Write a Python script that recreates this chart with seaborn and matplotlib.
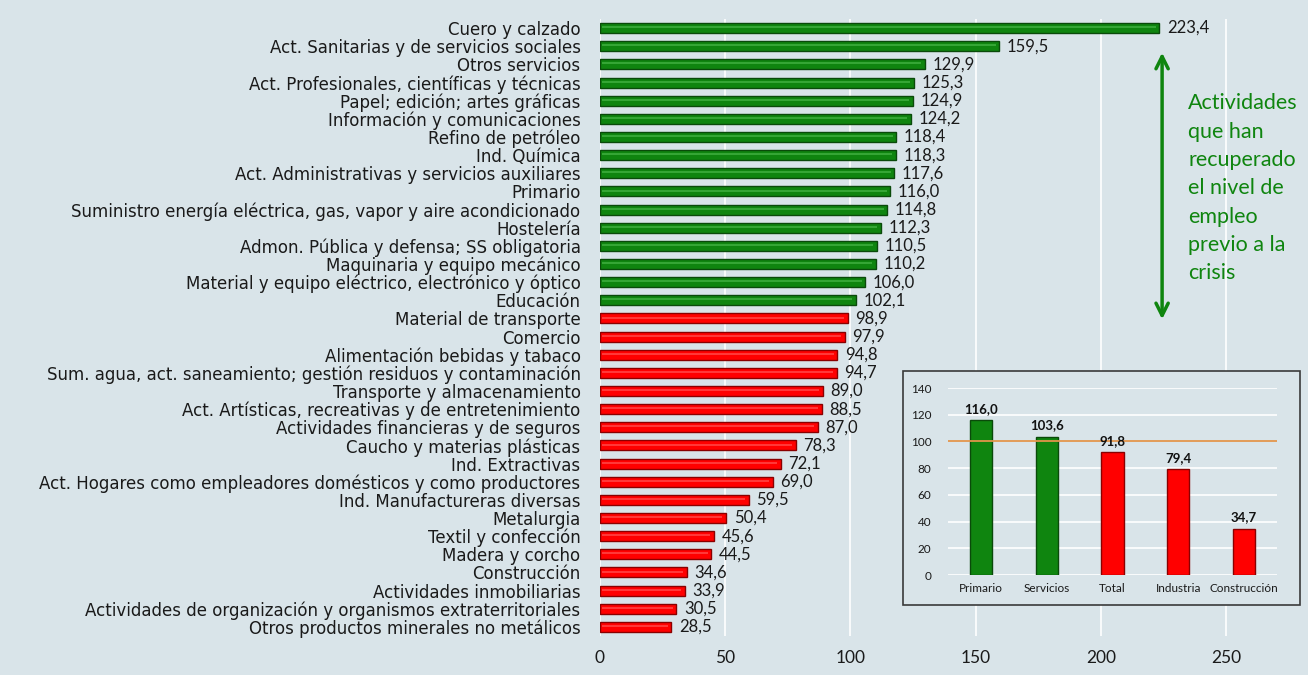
import matplotlib.pyplot as plt
import matplotlib.patches as mpatches
import seaborn as sns
import pandas as pd

actividades = [
    "Cuero y calzado",
    "Act. Sanitarias y de servicios sociales",
    "Otros servicios",
    "Act. Profesionales, científicas y técnicas",
    "Papel; edición; artes gráficas",
    "Información y comunicaciones",
    "Refino de petróleo",
    "Ind. Química",
    "Act. Administrativas y servicios auxiliares",
    "Primario",
    "Suministro energía eléctrica, gas, vapor y aire acondicionado",
    "Hostelería",
    "Admon. Pública y defensa; SS obligatoria",
    "Maquinaria y equipo mecánico",
    "Material y equipo eléctrico, electrónico y óptico",
    "Educación",
    "Material de transporte",
    "Comercio",
    "Alimentación bebidas y tabaco",
    "Sum. agua, act. saneamiento; gestión residuos y contaminación",
    "Transporte y almacenamiento",
    "Act. Artísticas, recreativas y de entretenimiento",
    "Actividades financieras y de seguros",
    "Caucho y materias plásticas",
    "Ind. Extractivas",
    "Act. Hogares como empleadores domésticos y como productores",
    "Ind. Manufactureras diversas",
    "Metalurgia",
    "Textil y confección",
    "Madera y corcho",
    "Construcción",
    "Actividades inmobiliarias",
    "Actividades de organización y organismos extraterritoriales",
    "Otros productos minerales no metálicos",
]
valores = [223.4, 159.5, 129.9, 125.3, 124.9, 124.2, 118.4, 118.3, 117.6, 116.0,
           114.8, 112.3, 110.5, 110.2, 106.0, 102.1, 98.9, 97.9, 94.8, 94.7,
           89.0, 88.5, 87.0, 78.3, 72.1, 69.0, 59.5, 50.4, 45.6, 44.5,
           34.6, 33.9, 30.5, 28.5]

sectores = ["Primario", "Servicios", "Total", "Industria", "Construcción"]
valores_sector = [116.0, 103.6, 91.8, 79.4, 34.7]

FONDO = "#d9e4e9"
VERDE = "#0f850f"
ROJO = "#ff0000"
VERDE_OSC = "#0a4a0a"
ROJO_OSC = "#8a0000"


def fmt(v):
    return f"{v:.1f}".replace(".", ",")


def main():
    sns.set_theme(style="white")
    plt.rcParams["font.family"] = ["DejaVu Sans"]

    df = pd.DataFrame({"actividad": actividades, "valor": valores})
    df["recupera"] = df["valor"] >= 100
    df_s = pd.DataFrame({"sector": sectores, "valor": valores_sector})
    df_s["recupera"] = df_s["valor"] >= 100

    fig = plt.figure(figsize=(13.08, 6.75), dpi=100, facecolor=FONDO)
    ax = fig.add_axes([0.4587, 0.0578, 0.536, 0.914])
    ax.set_facecolor(FONDO)

    sns.barplot(data=df, x="valor", y="actividad", hue="recupera",
                palette={True: VERDE, False: ROJO}, dodge=False, legend=False,
                saturation=1, width=0.55, ax=ax, zorder=3)
    for bar in ax.patches:
        idx = int(round(bar.get_y() + bar.get_height() / 2))
        ok = df["recupera"].iloc[idx]
        bar.set_edgecolor(VERDE_OSC if ok else ROJO_OSC)
        bar.set_linewidth(1.0)
    # brillo central de las barras
    for i, (v, ok) in enumerate(zip(df["valor"], df["recupera"])):
        ax.plot([1, v - 1.5], [i - 0.05, i - 0.05], color="#5cc85c" if ok else "#ff7070",
                lw=1.2, alpha=0.6, zorder=4, solid_capstyle="butt")

    ax.set_xlim(0, 280)
    ax.set_ylim(len(df) - 0.5, -0.5)
    ax.set_xticks([0, 50, 100, 150, 200, 250])
    ax.grid(axis="x", color="white", lw=1.2, zorder=0)
    ax.grid(axis="y", visible=False)
    for s in ax.spines.values():
        s.set_visible(False)
    ax.set_xlabel("")
    ax.set_ylabel("")
    ax.tick_params(axis="y", length=0, pad=14, labelsize=12, labelcolor="#1a1a1a")
    ax.tick_params(axis="x", length=0, pad=10, labelsize=12.5, labelcolor="#1a1a1a")
    for lab in ax.get_xticklabels():
        lab.set_fontfamily("Lato")

    for i, v in enumerate(df["valor"]):
        ax.text(v + 3, i, fmt(v), va="center", ha="left", fontsize=12,
                family="Lato", color="#1a1a1a", zorder=5)

    # flecha y texto
    ax.annotate("", xy=(224.5, 1.2), xytext=(224.5, 16.2),
                arrowprops=dict(arrowstyle="<->", color=VERDE, lw=2.5,
                                mutation_scale=22))
    ax.text(235, 3.6, "Actividades\nque han\nrecuperado\nel nivel de\nempleo\nprevio a la\ncrisis",
            va="top", ha="left", fontsize=15.5, family="Lato", color=VERDE,
            linespacing=1.52)

    # recuadro del gráfico pequeño
    caja = mpatches.Rectangle((0.6904, 0.1037), 0.3035, 0.3467, transform=fig.transFigure,
                              facecolor=FONDO, edgecolor="#3a3a3a", lw=1.2, zorder=10)
    fig.patches.append(caja)

    ax2 = fig.add_axes([0.7248, 0.1481, 0.2515, 0.277], zorder=11)
    ax2.set_facecolor(FONDO)
    sns.barplot(data=df_s, x="sector", y="valor", hue="recupera",
                palette={True: VERDE, False: ROJO}, dodge=False, legend=False,
                saturation=1, width=0.34, ax=ax2, zorder=3)
    for bar in ax2.patches:
        idx = int(round(bar.get_x() + bar.get_width() / 2))
        ok = df_s["recupera"].iloc[idx]
        bar.set_edgecolor(VERDE_OSC if ok else ROJO_OSC)
        bar.set_linewidth(1.0)
    ax2.set_xlim(-0.5, 4.5)
    ax2.set_ylim(0, 140)
    ax2.set_yticks(range(0, 141, 20))
    ax2.grid(axis="y", color="white", lw=1.2, zorder=0)
    ax2.grid(axis="x", visible=False)
    ax2.axhline(100, color="#e0944a", lw=1.3, zorder=4)
    for s in ax2.spines.values():
        s.set_visible(False)
    ax2.set_xlabel("")
    ax2.set_ylabel("")
    ax2.tick_params(axis="both", length=0, labelsize=8.5, labelcolor="#1a1a1a")
    ax2.tick_params(axis="y", pad=12)
    ax2.tick_params(axis="x", pad=6)
    for lab in ax2.get_xticklabels() + ax2.get_yticklabels():
        lab.set_fontfamily("Lato")
    for i, v in enumerate(df_s["valor"]):
        ax2.text(i, v + 4, fmt(v), ha="center", va="bottom", fontsize=9.5,
                 fontweight="bold", family="Lato", color="#111111", zorder=5)

    fig.savefig("out.png", dpi=100, facecolor=FONDO)


if __name__ == "__main__":
    main()
